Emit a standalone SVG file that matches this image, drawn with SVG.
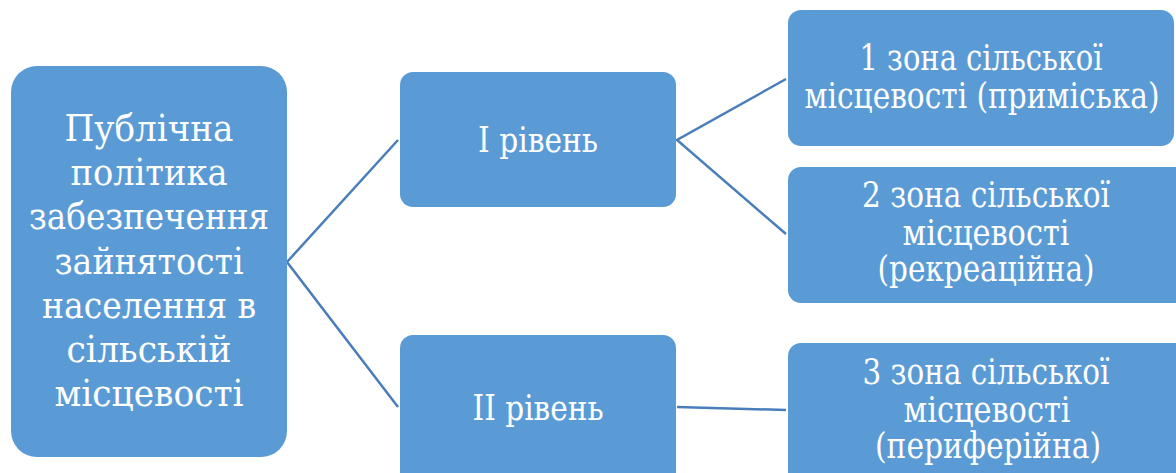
<svg xmlns="http://www.w3.org/2000/svg" width="1176" height="473" viewBox="0 0 1176 473">
<style>
.box{fill:#5B9BD5;}
.t{fill:#FFFFFF;text-anchor:middle;font-family:'DejaVu Serif Condensed','DejaVu Serif','Liberation Serif',serif;}
.big{font-size:37px;}
.lvl{font-size:36px;}
.sm{font-size:35px;}
.c{stroke:#4A7EBB;stroke-width:2.5;fill:none;}
</style>
<rect width="1176" height="473" fill="#FFFFFF"/>
<g id="connectors">
<polyline class="c" points="398,140 287,262 398,407"/>
<polyline class="c" points="786,79 677,140 786,234"/>
<line class="c" x1="677" y1="407" x2="786" y2="410"/>
</g>
<g id="root">
<rect class="box" x="11" y="66" width="276" height="391" rx="26"/>
<text class="t big" x="149" y="141" textLength="169" lengthAdjust="spacingAndGlyphs">Публічна</text>
<text class="t big" x="149" y="185" textLength="157" lengthAdjust="spacingAndGlyphs">політика</text>
<text class="t big" x="149" y="229" textLength="240" lengthAdjust="spacingAndGlyphs">забезпечення</text>
<text class="t big" x="149" y="274" textLength="189" lengthAdjust="spacingAndGlyphs">зайнятості</text>
<text class="t big" x="149" y="318" textLength="214" lengthAdjust="spacingAndGlyphs">населення в</text>
<text class="t big" x="149" y="362" textLength="165" lengthAdjust="spacingAndGlyphs">сільській</text>
<text class="t big" x="149" y="406" textLength="189" lengthAdjust="spacingAndGlyphs">місцевості</text>
</g>
<g id="level1">
<rect class="box" x="400" y="72" width="276" height="135" rx="13"/>
<text class="t lvl" x="538" y="152" textLength="120" lengthAdjust="spacingAndGlyphs">І рівень</text>
</g>
<g id="level2">
<rect class="box" x="400" y="335" width="276" height="150" rx="13"/>
<text class="t lvl" x="538" y="420" textLength="131" lengthAdjust="spacingAndGlyphs">ІІ рівень</text>
</g>
<g id="zone1">
<rect class="box" x="788" y="10" width="386" height="136" rx="13"/>
<text class="t sm" x="981" y="70" textLength="243" lengthAdjust="spacingAndGlyphs">1 зона сільської</text>
<text class="t sm" x="982" y="108" textLength="355" lengthAdjust="spacingAndGlyphs">місцевості (приміська)</text>
</g>
<g id="zone2">
<rect class="box" x="788" y="167" width="400" height="136" rx="13"/>
<text class="t sm" x="986" y="207" textLength="248" lengthAdjust="spacingAndGlyphs">2 зона сільської</text>
<text class="t sm" x="986" y="245" textLength="167" lengthAdjust="spacingAndGlyphs">місцевості</text>
<text class="t sm" x="986" y="281" textLength="217" lengthAdjust="spacingAndGlyphs">(рекреаційна)</text>
</g>
<g id="zone3">
<rect class="box" x="788" y="343" width="400" height="150" rx="13"/>
<text class="t sm" x="986" y="384" textLength="247" lengthAdjust="spacingAndGlyphs">3 зона сільської</text>
<text class="t sm" x="987" y="422" textLength="167" lengthAdjust="spacingAndGlyphs">місцевості</text>
<text class="t sm" x="988" y="458" textLength="226" lengthAdjust="spacingAndGlyphs">(периферійна)</text>
</g>
</svg>
